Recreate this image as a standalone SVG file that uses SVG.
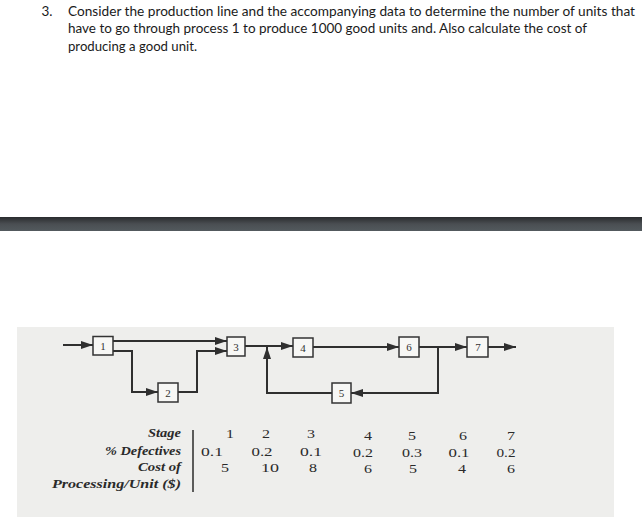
<svg xmlns="http://www.w3.org/2000/svg" width="642" height="517" viewBox="0 0 642 517">
<defs>
<linearGradient id="bar" x1="0" y1="0" x2="0" y2="1">
<stop offset="0" stop-color="#2a2c2e"/>
<stop offset="0.5" stop-color="#4a4e52"/>
<stop offset="1" stop-color="#535a5e"/>
</linearGradient>
<marker id="ah" viewBox="0 0 12 8" refX="12" refY="4" markerWidth="12" markerHeight="8" markerUnits="userSpaceOnUse" orient="auto">
<path d="M0,0 L12,4 L0,8 Z" fill="#2f2f2f"/>
</marker>
<style>
.title{font-family:Lato,"Liberation Sans",sans-serif;font-size:12.5px;fill:#1b1b1b}
.box{fill:#f7f7f5;stroke:#333;stroke-width:1.5}
.bl{font-family:"Liberation Serif",serif;font-size:11px;fill:#333;text-anchor:middle}
.conn{fill:none;stroke:#2f2f2f;stroke-width:2}
.lab{font-family:"Liberation Serif",serif;font-style:italic;font-weight:bold;font-size:12.5px;fill:#2a2a2a}
.num{font-family:"Liberation Serif",serif;font-size:12px;fill:#2a2a2a;text-anchor:middle}
</style>
</defs>
<rect width="642" height="517" fill="#ffffff"/>
<g id="question">
<text class="title" x="41.5" y="16" textLength="11" lengthAdjust="spacingAndGlyphs">3.</text>
<text class="title" x="68" y="16" textLength="567" lengthAdjust="spacingAndGlyphs">Consider the production line and the accompanying data to determine the number of units that</text>
<text class="title" x="68" y="33" textLength="519" lengthAdjust="spacingAndGlyphs">have to go through process 1 to produce 1000 good units and. Also calculate the cost of</text>
<text class="title" x="68" y="51" textLength="129" lengthAdjust="spacingAndGlyphs">producing a good unit.</text>
</g>
<rect x="0" y="217" width="642" height="14" fill="url(#bar)"/>
<rect x="17" y="327" width="597" height="190" fill="#eeeeec"/>
<g id="connectors">
<path class="conn" d="M63,345 H93" marker-end="url(#ah)"/>
<path class="conn" d="M113,341 H227" marker-end="url(#ah)"/>
<path class="conn" d="M113,351 H132 V392 H158" marker-end="url(#ah)"/>
<path class="conn" d="M178,392 H197 V351 H227" marker-end="url(#ah)"/>
<path class="conn" d="M245,346 H293" marker-end="url(#ah)"/>
<path class="conn" d="M332,393 H267 V347" marker-end="url(#ah)"/>
<path class="conn" d="M313,347 H399" marker-end="url(#ah)"/>
<path class="conn" d="M419,347 H467" marker-end="url(#ah)"/>
<path class="conn" d="M438,347 V393 H351" marker-end="url(#ah)"/>
<path class="conn" d="M488,347 H516" marker-end="url(#ah)"/>
</g>
<g id="n1"><rect class="box" x="93" y="336.5" width="20" height="18.5"/><text class="bl" x="103" y="349.5">1</text></g>
<g id="n2"><rect class="box" x="158" y="383" width="20" height="19"/><text class="bl" x="168" y="396.5">2</text></g>
<g id="n3"><rect class="box" x="227" y="337" width="18" height="19"/><text class="bl" x="236" y="350.5">3</text></g>
<g id="n4"><rect class="box" x="293" y="338" width="20" height="19"/><text class="bl" x="303" y="351.5">4</text></g>
<g id="n5"><rect class="box" x="332" y="383" width="19" height="20"/><text class="bl" x="341.5" y="397">5</text></g>
<g id="n6"><rect class="box" x="399" y="337" width="20" height="20"/><text class="bl" x="409" y="351">6</text></g>
<g id="n7"><rect class="box" x="467" y="337" width="21" height="20"/><text class="bl" x="478" y="351">7</text></g>
<g id="table">
<text class="lab" x="148" y="437" textLength="33" lengthAdjust="spacingAndGlyphs">Stage</text>
<text class="lab" x="105" y="455" textLength="76" lengthAdjust="spacingAndGlyphs">% Defectives</text>
<text class="lab" x="138" y="471" textLength="43" lengthAdjust="spacingAndGlyphs">Cost of</text>
<text class="lab" x="52" y="488" textLength="129" lengthAdjust="spacingAndGlyphs">Processing/Unit ($)</text>
<line x1="193" y1="430" x2="193" y2="492" stroke="#2a2a2a" stroke-width="1.5"/>
<text class="num" x="230" y="438" textLength="8" lengthAdjust="spacingAndGlyphs">1</text>
<text class="num" x="212" y="456" textLength="22" lengthAdjust="spacingAndGlyphs">0.1</text>
<text class="num" x="225" y="472" textLength="8" lengthAdjust="spacingAndGlyphs">5</text>
<text class="num" x="266" y="438" textLength="8" lengthAdjust="spacingAndGlyphs">2</text>
<text class="num" x="262" y="456" textLength="21" lengthAdjust="spacingAndGlyphs">0.2</text>
<text class="num" x="270" y="472" textLength="18" lengthAdjust="spacingAndGlyphs">10</text>
<text class="num" x="311" y="438" textLength="8" lengthAdjust="spacingAndGlyphs">3</text>
<text class="num" x="311" y="456" textLength="22" lengthAdjust="spacingAndGlyphs">0.1</text>
<text class="num" x="313" y="472" textLength="8" lengthAdjust="spacingAndGlyphs">8</text>
<text class="num" x="368" y="440" textLength="8" lengthAdjust="spacingAndGlyphs">4</text>
<text class="num" x="363" y="457" textLength="20" lengthAdjust="spacingAndGlyphs">0.2</text>
<text class="num" x="368" y="473" textLength="8" lengthAdjust="spacingAndGlyphs">6</text>
<text class="num" x="412" y="440" textLength="8" lengthAdjust="spacingAndGlyphs">5</text>
<text class="num" x="412" y="457" textLength="20" lengthAdjust="spacingAndGlyphs">0.3</text>
<text class="num" x="413" y="473" textLength="8" lengthAdjust="spacingAndGlyphs">5</text>
<text class="num" x="463" y="440" textLength="8" lengthAdjust="spacingAndGlyphs">6</text>
<text class="num" x="459" y="457" textLength="21" lengthAdjust="spacingAndGlyphs">0.1</text>
<text class="num" x="462" y="473" textLength="8" lengthAdjust="spacingAndGlyphs">4</text>
<text class="num" x="511" y="440" textLength="8" lengthAdjust="spacingAndGlyphs">7</text>
<text class="num" x="506" y="457" textLength="19" lengthAdjust="spacingAndGlyphs">0.2</text>
<text class="num" x="511" y="473" textLength="8" lengthAdjust="spacingAndGlyphs">6</text>
</g>
</svg>
